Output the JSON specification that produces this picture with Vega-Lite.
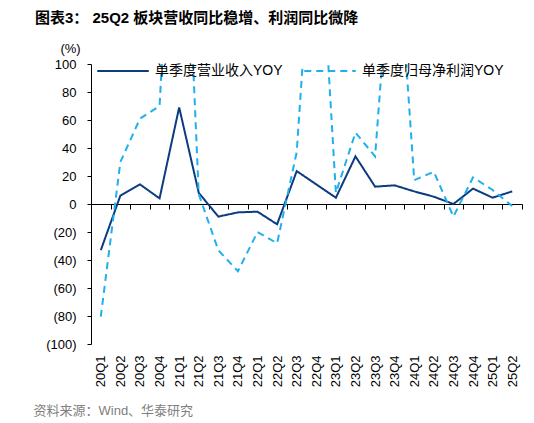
{
  "$schema": "https://vega.github.io/schema/vega-lite/v6.json",
  "width": 431,
  "height": 280,
  "autosize": {"type": "none"},
  "padding": {"left": 91, "top": 64, "right": 12, "bottom": 79},
  "background": "white",
  "config": {"view": {"stroke": null}},
  "title": {
    "text": "图表3：  25Q2 板块营收同比稳增、利润同比微降",
    "anchor": "start",
    "frame": "group",
    "dx": -56,
    "offset": 4,
    "baseline": "alphabetic",
    "fontSize": 15,
    "fontWeight": "bold",
    "font": "Liberation Sans, Noto Sans CJK SC",
    "color": "#000000"
  },
  "data": {
    "values": [
      {"q": "20Q1", "s": "单季度营业收入YOY", "v": -33},
      {"q": "20Q2", "s": "单季度营业收入YOY", "v": 6},
      {"q": "20Q3", "s": "单季度营业收入YOY", "v": 14},
      {"q": "20Q4", "s": "单季度营业收入YOY", "v": 4},
      {"q": "21Q1", "s": "单季度营业收入YOY", "v": 69},
      {"q": "21Q2", "s": "单季度营业收入YOY", "v": 8},
      {"q": "21Q3", "s": "单季度营业收入YOY", "v": -9},
      {"q": "21Q4", "s": "单季度营业收入YOY", "v": -6},
      {"q": "22Q1", "s": "单季度营业收入YOY", "v": -5.5},
      {"q": "22Q2", "s": "单季度营业收入YOY", "v": -14.5},
      {"q": "22Q3", "s": "单季度营业收入YOY", "v": 23.5},
      {"q": "22Q4", "s": "单季度营业收入YOY", "v": 14},
      {"q": "23Q1", "s": "单季度营业收入YOY", "v": 4.5},
      {"q": "23Q2", "s": "单季度营业收入YOY", "v": 34},
      {"q": "23Q3", "s": "单季度营业收入YOY", "v": 12.4},
      {"q": "23Q4", "s": "单季度营业收入YOY", "v": 13.3},
      {"q": "24Q1", "s": "单季度营业收入YOY", "v": 9},
      {"q": "24Q2", "s": "单季度营业收入YOY", "v": 5.2},
      {"q": "24Q3", "s": "单季度营业收入YOY", "v": 0},
      {"q": "24Q4", "s": "单季度营业收入YOY", "v": 11},
      {"q": "25Q1", "s": "单季度营业收入YOY", "v": 4.5},
      {"q": "25Q2", "s": "单季度营业收入YOY", "v": 9},
      {"q": "20Q1", "s": "单季度归母净利润YOY", "v": -80.5},
      {"q": "20Q2", "s": "单季度归母净利润YOY", "v": 30},
      {"q": "20Q3", "s": "单季度归母净利润YOY", "v": 61},
      {"q": "20Q4", "s": "单季度归母净利润YOY", "v": 70},
      {"q": "21Q1", "s": "单季度归母净利润YOY", "v": 330},
      {"q": "21Q2", "s": "单季度归母净利润YOY", "v": 7},
      {"q": "21Q3", "s": "单季度归母净利润YOY", "v": -33},
      {"q": "21Q4", "s": "单季度归母净利润YOY", "v": -48},
      {"q": "22Q1", "s": "单季度归母净利润YOY", "v": -20},
      {"q": "22Q2", "s": "单季度归母净利润YOY", "v": -28},
      {"q": "22Q3", "s": "单季度归母净利润YOY", "v": 37},
      {"q": "22Q4", "s": "单季度归母净利润YOY", "v": 245},
      {"q": "23Q1", "s": "单季度归母净利润YOY", "v": 8},
      {"q": "23Q2", "s": "单季度归母净利润YOY", "v": 51},
      {"q": "23Q3", "s": "单季度归母净利润YOY", "v": 34},
      {"q": "23Q4", "s": "单季度归母净利润YOY", "v": 220},
      {"q": "24Q1", "s": "单季度归母净利润YOY", "v": 17},
      {"q": "24Q2", "s": "单季度归母净利润YOY", "v": 23},
      {"q": "24Q3", "s": "单季度归母净利润YOY", "v": -9},
      {"q": "24Q4", "s": "单季度归母净利润YOY", "v": 19},
      {"q": "25Q1", "s": "单季度归母净利润YOY", "v": 10},
      {"q": "25Q2", "s": "单季度归母净利润YOY", "v": -1.5}
    ]
  },
  "mark": {"type": "line", "clip": true, "strokeWidth": 2},
  "encoding": {
    "x": {
      "field": "q",
      "type": "ordinal",
      "sort": null,
      "scale": {"type": "band", "paddingInner": 0, "paddingOuter": 0},
      "axis": {
        "title": "资料来源：Wind、华泰研究",
        "offset": -140,
        "tickBand": "extent",
        "tickSize": 5,
        "tickColor": "#000000",
        "domainColor": "#000000",
        "labelAngle": -90,
        "labelAlign": "right",
        "labelBaseline": "middle",
        "labelPadding": 146,
        "labelFontSize": 13,
        "labelFont": "Liberation Sans",
        "labelColor": "#000000",
        "labelOverlap": false,
        "grid": false,
        "titleX": -58,
        "titleY": 206,
        "titleAlign": "left",
        "titleAngle": 0,
        "titleBaseline": "middle",
        "titleFontWeight": "normal",
        "titleFontSize": 13,
        "titleColor": "#808080",
        "titleFont": "Liberation Sans, Noto Sans CJK SC"
      }
    },
    "y": {
      "field": "v",
      "type": "quantitative",
      "scale": {"domain": [-100, 100], "nice": false, "zero": false},
      "axis": {
        "title": "(%)",
        "values": [-100, -80, -60, -40, -20, 0, 20, 40, 60, 80, 100],
        "labelExpr": "datum.value < 0 ? '(' + format(-datum.value, 'd') + ')' : datum.label",
        "tickSize": 4,
        "labelPadding": 11,
        "grid": false,
        "domainColor": "#000000",
        "tickColor": "#000000",
        "labelFontSize": 13,
        "labelFont": "Liberation Sans",
        "labelColor": "#000000",
        "titleAngle": 0,
        "titleX": -21,
        "titleY": -16,
        "titleAlign": "center",
        "titleBaseline": "middle",
        "titleFontWeight": "normal",
        "titleFontSize": 13,
        "titleFont": "Liberation Sans",
        "titleColor": "#000000"
      }
    },
    "color": {
      "field": "s",
      "type": "nominal",
      "scale": {"domain": ["单季度营业收入YOY", "单季度归母净利润YOY"], "range": ["#0d3b80", "#1fb0ec"]},
      "legend": {
        "orient": "none",
        "legendX": 5,
        "legendY": -20,
        "direction": "horizontal",
        "title": null,
        "symbolType": "stroke",
        "symbolSize": 2650,
        "symbolStrokeWidth": 2,
        "labelFontSize": 14,
        "labelFont": "Liberation Sans, Noto Sans CJK SC",
        "labelColor": "#000000",
        "labelOffset": 5,
        "labelLimit": 300,
        "columnPadding": 17,
        "padding": 0
      }
    },
    "strokeDash": {
      "field": "s",
      "type": "nominal",
      "scale": {"domain": ["单季度营业收入YOY", "单季度归母净利润YOY"], "range": [[1, 0], [7, 5]]},
      "legend": {
        "orient": "none",
        "legendX": 5,
        "legendY": -20,
        "direction": "horizontal",
        "title": null,
        "symbolType": "stroke",
        "symbolSize": 2650,
        "symbolStrokeWidth": 2,
        "labelFontSize": 14,
        "labelFont": "Liberation Sans, Noto Sans CJK SC",
        "labelColor": "#000000",
        "labelOffset": 5,
        "labelLimit": 300,
        "columnPadding": 17,
        "padding": 0
      }
    }
  }
}
